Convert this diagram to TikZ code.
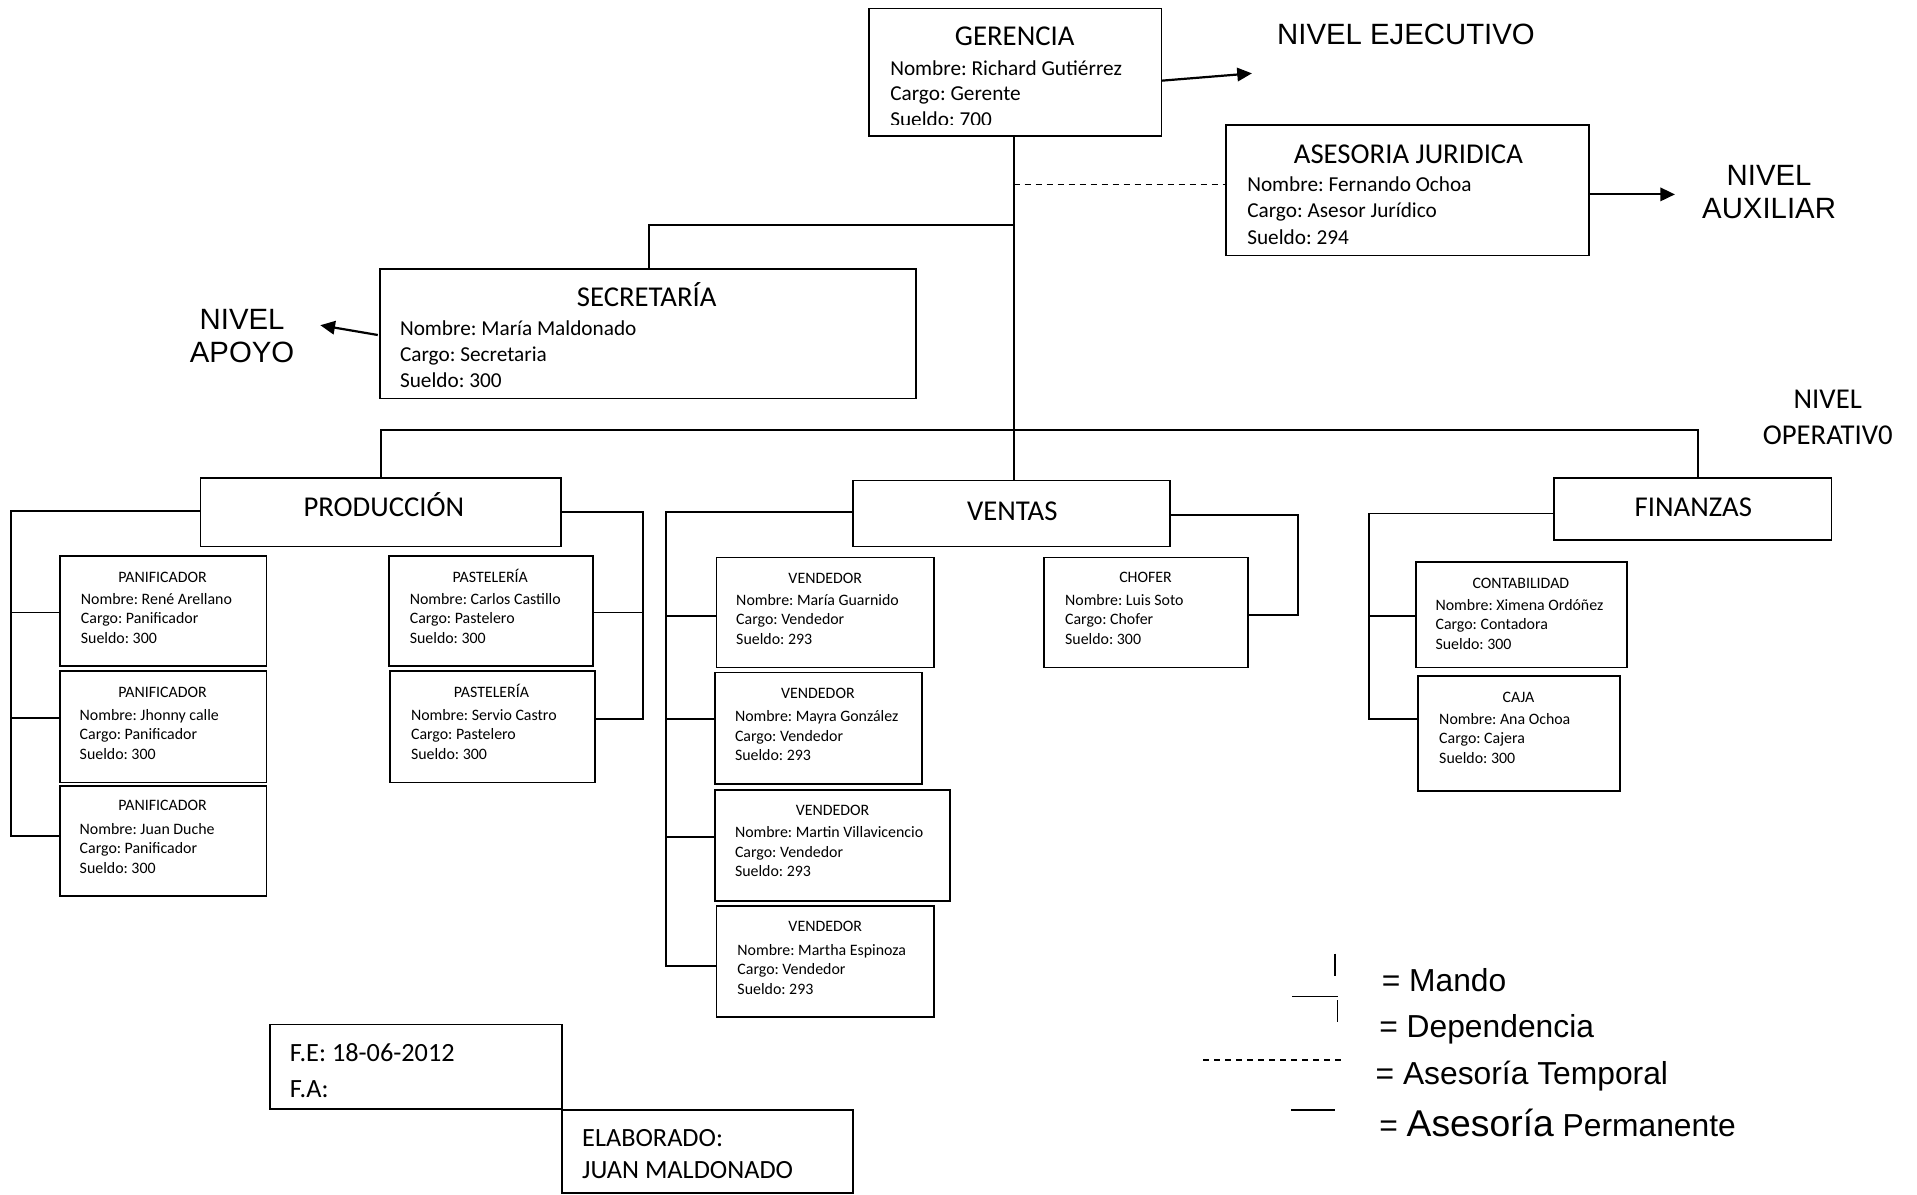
\documentclass[tikz,border=0pt]{standalone}
\usepackage{fontspec}
\setmainfont{Carlito}
\newfontfamily\arialf{Liberation Sans}
\frenchspacing
\usetikzlibrary{arrows.meta}
\tikzset{
  obox/.style={draw, line width=1.5pt, rectangle, inner sep=0pt, outer sep=0pt},
  con/.style={line width=1.6pt},
  arr/.style={line width=1.8pt, -{Triangle[length=12pt,width=11pt]}},
  ttl/.style={font=\fontsize{23.5}{28}\selectfont, inner sep=0pt, text height=15pt, text depth=0pt, anchor=center},
  bd/.style={font=\fontsize{17.4}{21}\selectfont, inner sep=0pt, text height=11.2pt, text depth=0pt, anchor=west},
  smt/.style={font=\fontsize{13}{16}\selectfont, inner sep=0pt, text height=8.4pt, text depth=0pt, anchor=center},
  sm/.style={font=\fontsize{13}{16}\selectfont, inner sep=0pt, text height=8.4pt, text depth=0pt, anchor=west},
  nivA/.style={font=\arialf\fontsize{24}{29}\selectfont, inner sep=0pt, text height=17pt, text depth=0pt, anchor=center},
  nivC/.style={font=\fontsize{23.5}{29}\selectfont, inner sep=0pt, text height=15pt, text depth=0pt, anchor=center},
  leg/.style={font=\arialf\fontsize{26}{30}\selectfont, inner sep=0pt, text height=18.5pt, text depth=0pt, anchor=west},
  ft/.style={font=\fontsize{21.5}{26}\selectfont, inner sep=0pt, text height=13.8pt, text depth=0pt, anchor=west},
}
\newcommand\obx[5]{\node[obox, minimum width={(#4-#2)*1pt}, minimum height={(#5-#3)*1pt}] (#1) at ({(#2+#4)/2},{(#3+#5)/2}) {};}
\begin{document}
\begin{tikzpicture}[x=1pt,y=-1pt]
\useasboundingbox (0,0) rectangle (1568,977);

% ---------- boxes ----------
\obx{ger}{711}{7}{950}{111}
\obx{ase}{1003}{102}{1300}{209}
\obx{sec}{311}{220}{749}{326}
\obx{pro}{164}{391}{459}{447}
\obx{ven}{698}{393}{957}{447}
\obx{fin}{1271}{391}{1498}{442}
\obx{pan1}{49}{455}{218}{545}
\obx{pan2}{49}{549}{218}{640}
\obx{pan3}{49}{643}{218}{733}
\obx{pas1}{318}{455}{485}{545}
\obx{pas2}{319}{549}{487}{640}
\obx{vd1}{586}{456}{764}{546}
\obx{vd2}{585}{550}{754}{641}
\obx{vd3}{585}{646}{777}{737}
\obx{vd4}{586}{741}{764}{832}
\obx{cho}{854}{456}{1021}{546}
\obx{cnt}{1158}{460}{1331}{546}
\obx{caj}{1160}{553}{1325}{647}
\obx{fe}{221}{838}{460}{907}
\obx{ela}{460}{908}{698}{976}

% ---------- texts ----------
\node[ttl] (gerT) at (830,30) {GERENCIA};
\node[bd] (ger1) at (728,56) {Nombre: Richard Gutiérrez};
\node[bd] (ger2) at (728,77) {Cargo: Gerente};
\begin{scope}
\clip (711,7) rectangle (950,102);
\node[bd] (ger3) at (728,98) {Sueldo: 700};
\end{scope}

\node[ttl] (aseT) at (1152,126) {ASESORIA JURIDICA};
\node[bd] (ase1) at (1020,151) {Nombre: Fernando Ochoa};
\node[bd] (ase2) at (1020,172) {Cargo: Asesor Jurídico};
\node[bd] (ase3) at (1020,194) {Sueldo: 294};

\node[ttl] (secT) at (529,243) {SECRETARÍA};
\node[bd] (sec1) at (327,269) {Nombre: María Maldonado};
\node[bd] (sec2) at (327,290) {Cargo: Secretaria};
\node[bd] (sec3) at (327,311) {Sueldo: 300};

\node[ttl] (proT) at (314,415) {PRODUCCIÓN};
\node[ttl] (venT) at (828,418) {VENTAS};
\node[ttl] (finT) at (1385,415) {FINANZAS};

% small boxes: title, name, cargo, sueldo
\newcommand\smb[9]{%
  \node[smt] (#1t) at (#2,#3) {#6};
  \node[sm] (#1a) at (#4,#5) {Nombre: #7};
  \node[sm] (#1b) at (#4,#5+16) {Cargo: #8};
  \node[sm] (#1c) at (#4,#5+32) {Sueldo: #9};}
\smb{p1}{133}{472}{66}{490}{PANIFICADOR}{René Arellano}{Panificador}{300}
\smb{p2}{133}{566}{65}{585}{PANIFICADOR}{Jhonny calle}{Panificador}{300}
\smb{p3}{133}{659}{65}{678}{PANIFICADOR}{Juan Duche}{Panificador}{300}
\smb{q1}{401}{472}{335}{490}{PASTELERÍA}{Carlos Castillo}{Pastelero}{300}
\smb{q2}{402}{566}{336}{585}{PASTELERÍA}{Servio Castro}{Pastelero}{300}
\smb{v1}{675}{473}{602}{491}{VENDEDOR}{María Guarnido}{Vendedor}{293}
\smb{v2}{669}{567}{601}{586}{VENDEDOR}{Mayra González}{Vendedor}{293}
\smb{v3}{681}{663}{601}{681}{VENDEDOR}{Martin Villavicencio}{Vendedor}{293}
\smb{v4}{675}{758}{603}{777}{VENDEDOR}{Martha Espinoza}{Vendedor}{293}
\smb{c1}{937}{472}{871}{491}{CHOFER}{Luis Soto}{Chofer}{300}
\smb{f1}{1244}{477}{1174}{495}{CONTABILIDAD}{Ximena Ordóñez}{Contadora}{300}
\smb{f2}{1242}{570}{1177}{588}{CAJA}{Ana Ochoa}{Cajera}{300}

% level labels
\node[nivA] (nej) at (1150,28) {NIVEL EJECUTIVO};
\node[nivA] (naux1) at (1447,143) {NIVEL};
\node[nivA] (naux2) at (1447,170) {AUXILIAR};
\node[nivA] (napo1) at (198,261) {NIVEL};
\node[nivA] (napo2) at (198,288) {APOYO};
\node[nivC] (nop1) at (1495,327) {NIVEL};
\node[nivC] (nop2) at (1495,356) {OPERATIV0};

% footer
\node[ft] (fe1) at (237,861) {F.E: 18-06-2012};
\node[ft] (fe2) at (237,891) {F.A:};
\node[ft] (el1) at (476,931) {ELABORADO:};
\node[ft] (el2) at (476,957) {JUAN MALDONADO};

% ---------- connectors ----------
\coordinate (m1) at (829,184);
\coordinate (m2) at (829,151);
\coordinate (bus) at (829,352);
\coordinate (s1) at (531,184);
\coordinate (b1) at (312,352);
\coordinate (b2) at (1389,352);
\draw[con] (ger.south -| bus) -- (ven.north -| bus);
\draw[con] (m1) -- (s1) -- (s1 |- sec.north);
\draw[line width=1.2pt, dash pattern=on 5pt off 4pt] (m2) -- (m2 -| ase.west);
\draw[con] (b1 |- pro.north) -- (b1) -- (b2) -- (b2 |- fin.north);

% arrows
\coordinate (ea) at (950,66);
\coordinate (eb) at (1024,60);
\draw[arr] (ea) -- (eb);
\coordinate (xa) at (1300,159);
\coordinate (xb) at (1370,159);
\draw[arr] (xa) -- (xb);
\coordinate (ya) at (309,274);
\coordinate (yb) at (262,266);
\draw[arr] (ya) -- (yb);

% produccion left
\coordinate (pl0) at (9,418);
\coordinate (pl1) at (9,501);
\coordinate (pl2) at (9,587);
\coordinate (pl3) at (9,684);
\draw[con] (pro.west |- pl0) -- (pl0) -- (pl3) -- (pl3 -| pan3.west);
\draw[con] (pl1) -- (pl1 -| pan1.west);
\draw[con] (pl2) -- (pl2 -| pan2.west);
% produccion right
\coordinate (pr0) at (526,419);
\coordinate (pr1) at (526,501);
\coordinate (pr2) at (526,588);
\draw[con] (pro.east |- pr0) -- (pr0) -- (pr2) -- (pr2 -| pas2.east);
\draw[con] (pr1) -- (pr1 -| pas1.east);
% ventas left
\coordinate (vl0) at (545,419);
\coordinate (vl1) at (545,504);
\coordinate (vl2) at (545,588);
\coordinate (vl3) at (545,685);
\coordinate (vl4) at (545,790);
\draw[con] (ven.west |- vl0) -- (vl0) -- (vl4) -- (vl4 -| vd4.west);
\draw[con] (vl1) -- (vl1 -| vd1.west);
\draw[con] (vl2) -- (vl2 -| vd2.west);
\draw[con] (vl3) -- (vl3 -| vd3.west);
% ventas right
\coordinate (vr0) at (1062,421);
\coordinate (vr1) at (1062,503);
\draw[con] (ven.east |- vr0) -- (vr0) -- (vr1) -- (vr1 -| cho.east);
% finanzas
\coordinate (fl0) at (1120,420);
\coordinate (fl1) at (1120,504);
\coordinate (fl2) at (1120,588);
\draw[con] (fin.west |- fl0) -- (fl0) -- (fl2) -- (fl2 -| caj.west);
\draw[con] (fl1) -- (fl1 -| cnt.west);

% ---------- legend ----------
\coordinate (lm1) at (1092,780);
\coordinate (lm2) at (1092,798);
\draw[line width=1.2pt] (lm1) -- (lm2);
\node[leg] (lgm) at (1130,802) {= Mando};
\coordinate (ld1) at (1057,815);
\coordinate (ld2) at (1094,815);
\coordinate (ld3) at (1094,836);
\coordinate (ld4) at (1094,818);
\draw[line width=1.2pt] (ld1) -- (ld2);
\draw[line width=1.2pt] (ld4) -- (ld3);
\node[leg] (lgd) at (1128,839) {= Dependencia};
\coordinate (lt1) at (984,867);
\coordinate (lt2) at (1099,867);
\draw[line width=1pt, dash pattern=on 5pt off 4pt] (lt1) -- (lt2);
\node[leg] (lgt) at (1125,878) {= Asesoría Temporal};
\coordinate (lp1) at (1056,908);
\coordinate (lp2) at (1092,908);
\draw[line width=1.2pt] (lp1) -- (lp2);
\node[leg] (lgp) at (1128,920) {= {\fontsize{30.5}{34}\selectfont Asesoría} Permanente};
\end{tikzpicture}
\end{document}
